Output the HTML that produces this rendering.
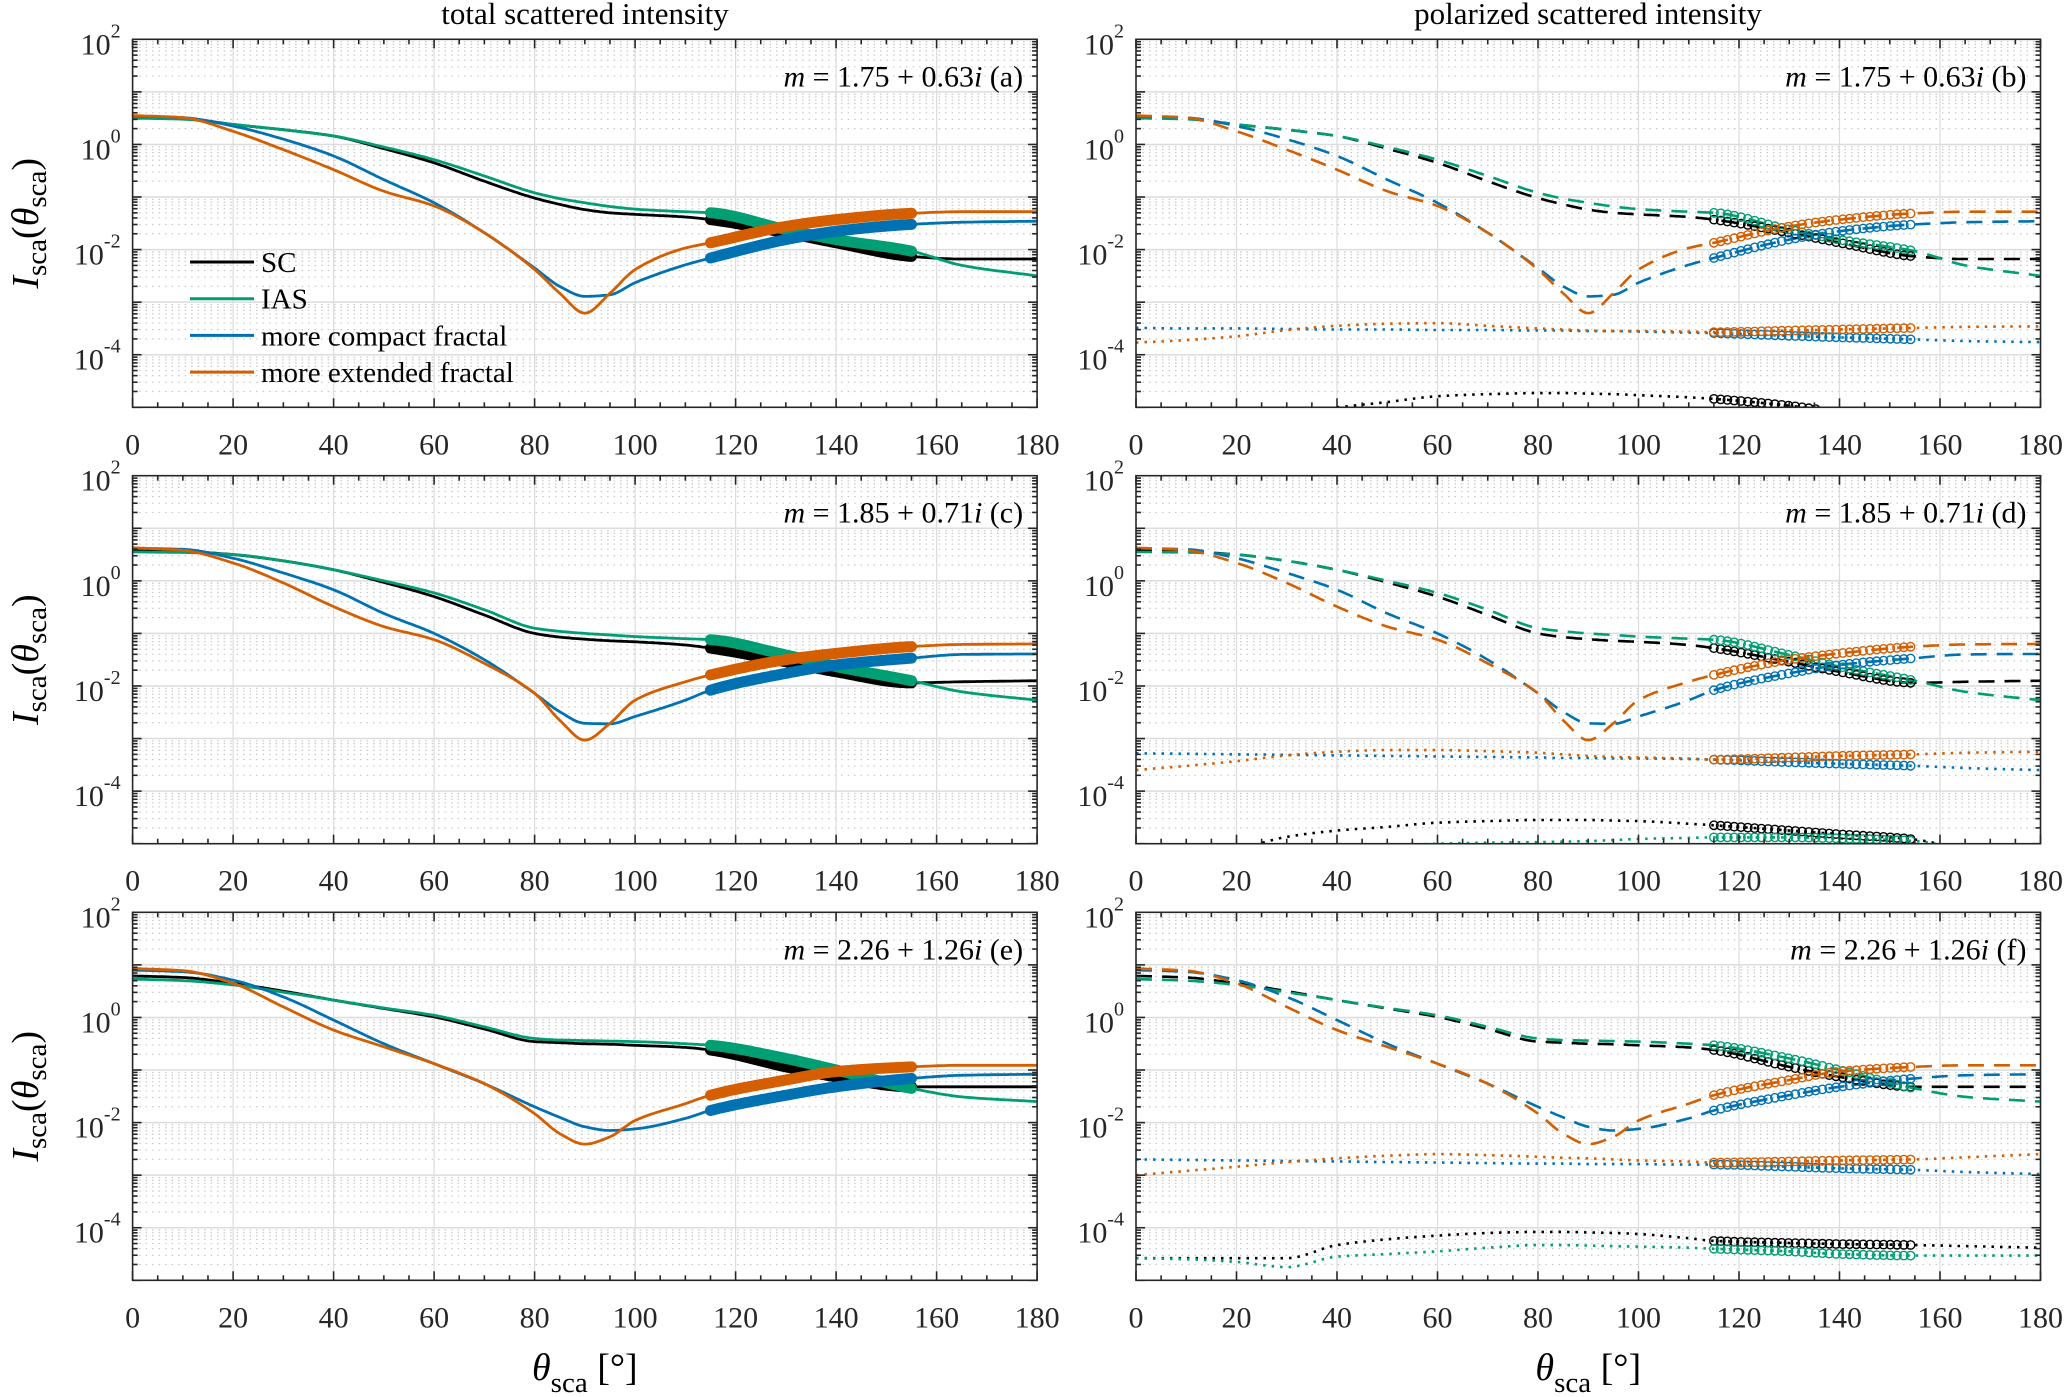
<!DOCTYPE html>
<html><head><meta charset="utf-8">
<style>
html,body{margin:0;padding:0;background:#fff;}
svg{display:block;font-family:"Liberation Serif",serif;}
</style></head>
<body>
<svg id="fig" width="2067" height="1397" viewBox="0 0 2067 1397" xmlns="http://www.w3.org/2000/svg">
<text x="585" y="24" font-size="31" text-anchor="middle">total scattered intensity</text>
<text x="1588" y="24" font-size="31" text-anchor="middle">polarized scattered intensity</text>
</svg>
<script>
// ---- data (log10 of intensity) ----
const angles = [0,10,20,30,40,50,60,70,80,85,90,95,100,110,115,130,140,155,165,180];
const aSC  = [0.54,0.5,0.38,0.28,0.16,-0.08,-0.35,-0.7,-1.02,-1.14,-1.24,-1.3,-1.33,-1.38,-1.43,-1.68,-1.87,-2.13,-2.18,-2.18];
const aIAS = [0.5,0.48,0.38,0.28,0.16,-0.05,-0.29,-0.6,-0.92,-1.03,-1.11,-1.18,-1.23,-1.28,-1.3,-1.62,-1.81,-2.03,-2.3,-2.5];
const aCmp = [0.54,0.51,0.35,0.1,-0.22,-0.67,-1.11,-1.68,-2.35,-2.7,-2.89,-2.86,-2.63,-2.29,-2.16,-1.81,-1.65,-1.52,-1.48,-1.46];
const aExt = [0.55,0.51,0.25,-0.1,-0.48,-0.89,-1.17,-1.68,-2.38,-2.83,-3.21,-2.83,-2.38,-1.97,-1.87,-1.56,-1.43,-1.31,-1.28,-1.28];
const bSC  = [-5.5,-5.5,-5.4,-5.1,-5.0,-4.9,-4.79,-4.75,-4.73,-4.73,-4.74,-4.75,-4.77,-4.81,-4.84,-4.97,-5.1,-5.3,-5.4,-5.5];
const bIAS = [-5.5,-5.5,-5.5,-5.5,-5.5,-5.5,-5.4,-5.3,-5.3,-5.3,-5.3,-5.3,-5.3,-5.3,-5.3,-5.3,-5.3,-5.4,-5.5,-5.5];
const bCmp = [-3.49,-3.5,-3.5,-3.51,-3.52,-3.52,-3.53,-3.53,-3.54,-3.54,-3.55,-3.55,-3.56,-3.58,-3.59,-3.64,-3.67,-3.71,-3.74,-3.76];
const bExt = [-3.77,-3.72,-3.65,-3.53,-3.45,-3.41,-3.4,-3.45,-3.5,-3.52,-3.54,-3.55,-3.55,-3.56,-3.57,-3.54,-3.52,-3.49,-3.47,-3.46];
const cSC  = [0.59,0.56,0.5,0.38,0.21,-0.03,-0.3,-0.65,-1.0,-1.07,-1.11,-1.14,-1.16,-1.22,-1.28,-1.54,-1.73,-1.94,-1.92,-1.9];
const cIAS = [0.55,0.54,0.5,0.38,0.21,0.0,-0.23,-0.55,-0.9,-0.96,-1.0,-1.03,-1.06,-1.1,-1.12,-1.41,-1.63,-1.9,-2.11,-2.27];
const cCmp = [0.62,0.6,0.43,0.15,-0.17,-0.62,-1.0,-1.5,-2.14,-2.49,-2.71,-2.72,-2.58,-2.27,-2.08,-1.76,-1.6,-1.47,-1.4,-1.39];
const cExt = [0.63,0.58,0.34,-0.04,-0.49,-0.87,-1.12,-1.57,-2.14,-2.65,-3.03,-2.71,-2.27,-1.92,-1.79,-1.5,-1.38,-1.25,-1.21,-1.2];
const dSC  = [-5.2,-5.2,-5.1,-4.87,-4.75,-4.68,-4.6,-4.57,-4.55,-4.55,-4.55,-4.56,-4.57,-4.62,-4.65,-4.75,-4.82,-4.92,-5.1,-5.2];
const dIAS = [-5.3,-5.3,-5.3,-5.2,-5.1,-5.05,-5.0,-4.98,-4.97,-4.96,-4.95,-4.93,-4.91,-4.89,-4.88,-4.88,-4.9,-4.95,-5.1,-5.2];
const dCmp = [-3.28,-3.29,-3.3,-3.31,-3.32,-3.33,-3.34,-3.35,-3.36,-3.37,-3.37,-3.38,-3.38,-3.39,-3.4,-3.45,-3.48,-3.52,-3.56,-3.6];
const dExt = [-3.6,-3.52,-3.43,-3.32,-3.25,-3.22,-3.22,-3.24,-3.27,-3.3,-3.33,-3.35,-3.36,-3.38,-3.4,-3.36,-3.33,-3.3,-3.27,-3.25];
const eSC  = [0.79,0.76,0.65,0.5,0.33,0.17,0.01,-0.22,-0.46,-0.48,-0.5,-0.51,-0.53,-0.57,-0.62,-0.94,-1.13,-1.32,-1.32,-1.32];
const eIAS = [0.73,0.7,0.62,0.48,0.33,0.18,0.04,-0.18,-0.4,-0.43,-0.44,-0.45,-0.46,-0.5,-0.53,-0.78,-1.0,-1.35,-1.51,-1.6];
const eCmp = [0.9,0.87,0.71,0.39,-0.05,-0.5,-0.88,-1.26,-1.7,-1.9,-2.08,-2.15,-2.12,-1.92,-1.77,-1.48,-1.32,-1.16,-1.1,-1.08];
const eExt = [0.93,0.89,0.65,0.2,-0.24,-0.56,-0.88,-1.26,-1.83,-2.21,-2.41,-2.27,-1.96,-1.64,-1.48,-1.19,-1.03,-0.94,-0.91,-0.91];
const fSC  = [-4.58,-4.58,-4.58,-4.58,-4.33,-4.22,-4.15,-4.1,-4.08,-4.08,-4.09,-4.1,-4.12,-4.2,-4.25,-4.29,-4.31,-4.33,-4.35,-4.38];
const fIAS = [-4.58,-4.6,-4.65,-4.75,-4.55,-4.5,-4.45,-4.38,-4.33,-4.33,-4.34,-4.35,-4.36,-4.38,-4.4,-4.45,-4.5,-4.53,-4.53,-4.53];
const fCmp = [-2.7,-2.71,-2.72,-2.73,-2.74,-2.75,-2.76,-2.77,-2.78,-2.78,-2.79,-2.79,-2.79,-2.8,-2.8,-2.84,-2.87,-2.9,-2.94,-2.98];
const fExt = [-3.0,-2.92,-2.84,-2.75,-2.68,-2.63,-2.6,-2.62,-2.65,-2.67,-2.68,-2.7,-2.72,-2.74,-2.76,-2.74,-2.72,-2.7,-2.66,-2.6];
const xTicks = [0,20,40,60,80,100,120,140,160,180];
const yTicks = [2,0,-2,-4];
const seriesNames = ["SC","IAS","more compact fractal","more extended fractal"];
const labels = ["m = 1.75 + 0.63i (a)","m = 1.75 + 0.63i (b)","m = 1.85 + 0.71i (c)","m = 1.85 + 0.71i (d)","m = 2.26 + 1.26i (e)","m = 2.26 + 1.26i (f)"];

const colors = ["#000000","#009e73","#0072b2","#d55e00"];
const NS = "http://www.w3.org/2000/svg";
const svg = document.getElementById('fig');
const colX = [132.6, 1136], W = 904.5, rowY = [39.3, 475.7, 912.3], H = 368;
const YMIN = -5, YMAX = 2;

function mk(tag, attrs, parent){ const e=document.createElementNS(NS,tag); for(const k in attrs) e.setAttribute(k,attrs[k]); (parent||svg).appendChild(e); return e; }
// monotone cubic (Fritsch-Carlson) interpolation in data space
function slopes(arr){
  const n=angles.length, d=[], m=new Array(n);
  for(let i=0;i<n-1;i++) d.push((arr[i+1]-arr[i])/(angles[i+1]-angles[i]));
  m[0]=d[0]; m[n-1]=d[n-2];
  for(let i=1;i<n-1;i++){
    if(d[i-1]*d[i]<=0) m[i]=0;
    else { const h0=angles[i]-angles[i-1], h1=angles[i+1]-angles[i];
      const w1=2*h1+h0, w2=h1+2*h0; m[i]=(w1+w2)/(w1/d[i-1]+w2/d[i]); }
  }
  return m;
}
function interp(arr, m, a){
  for(let i=0;i<angles.length-1;i++){
    if(a>=angles[i]&&a<=angles[i+1]){
      const h=angles[i+1]-angles[i], t=(a-angles[i])/h;
      const h00=2*t*t*t-3*t*t+1, h10=t*t*t-2*t*t+t, h01=-2*t*t*t+3*t*t, h11=t*t*t-t*t;
      return h00*arr[i]+h10*h*m[i]+h01*arr[i+1]+h11*h*m[i+1];
    }
  }
  return arr[arr.length-1];
}
function curvePath(arr, X, Y){
  const m=slopes(arr); let d="";
  for(let a=0;a<=180.001;a+=0.5){ d+=(a===0?"M":" L")+X(a).toFixed(1)+","+Y(interp(arr,m,a)).toFixed(1); }
  return d;
}

const panels = [
  {r:0,c:0,id:"a",series:[aSC,aIAS,aCmp,aExt],pol:false},
  {r:0,c:1,id:"b",series:[aSC,aIAS,aCmp,aExt],dots:[bSC,bIAS,bCmp,bExt],pol:true},
  {r:1,c:0,id:"c",series:[cSC,cIAS,cCmp,cExt],pol:false},
  {r:1,c:1,id:"d",series:[cSC,cIAS,cCmp,cExt],dots:[dSC,dIAS,dCmp,dExt],pol:true},
  {r:2,c:0,id:"e",series:[eSC,eIAS,eCmp,eExt],pol:false},
  {r:2,c:1,id:"f",series:[eSC,eIAS,eCmp,eExt],dots:[fSC,fIAS,fCmp,fExt],pol:true}
];

panels.forEach((p,pi)=>{
  const x0=colX[p.c], y0=rowY[p.r];
  const X=a=>x0+a/180*W;
  const Y=v=>y0+(YMAX-v)/(YMAX-YMIN)*H;
  const g=mk('g',{});
  
  
  const cp=mk('clipPath',{id:'clip'+p.id},g);
  mk('rect',{x:x0,y:y0,width:W,height:H},cp);
  const grid=mk('g',{},g);
  
  
  for(let dec=YMIN;dec<YMAX;dec++){
    for(let k=2;k<=9;k++){ const yy=Y(dec+Math.log10(k)); mk('line',{x1:x0,x2:x0+W,y1:yy,y2:yy,stroke:'#c8c8c8','stroke-width':1.2,'stroke-dasharray':'1.5 5'},grid); }
    if(dec>YMIN){ const yy=Y(dec); mk('line',{x1:x0,x2:x0+W,y1:yy,y2:yy,stroke:'#dcdcdc','stroke-width':1.5},grid); }
  }
  xTicks.forEach(t=>{ if(t>0&&t<180) mk('line',{x1:X(t),x2:X(t),y1:y0,y2:y0+H,stroke:'#dcdcdc','stroke-width':1.2},grid); });
  const data=mk('g',{'clip-path':'url(#clip'+p.id+')'},g);
  p.series.forEach((s,si)=>{
    const path=mk('path',{d:curvePath(s,X,Y),fill:'none',stroke:colors[si],'stroke-width':p.pol?2.6:2.8,'stroke-linejoin':'round'},data);
    if(p.pol) path.setAttribute('stroke-dasharray','16 10');
    
    
  });
  const markerSets = p.pol ? p.series.concat(p.dots) : p.series;
  if(p.pol){
    p.dots.forEach((s,si)=>{
      const path=mk('path',{d:curvePath(s,X,Y),fill:'none',stroke:colors[si],'stroke-width':2.6,'stroke-dasharray':'2.5 6'},data);
      
      
    });
  }
  markerSets.forEach((s,k)=>{
    const si=k%4; const m=slopes(s);
    const mg=mk('g',{fill:'none',stroke:colors[si],'stroke-width':p.pol?1.4:2.4},data);
    
    
    const step=p.pol?1.35:0.4;
    for(let a=115;a<=155.01;a+=step){
      const v=interp(s,m,a);
      if(v<YMIN-0.05) continue;
      mk('circle',{cx:X(a).toFixed(1),cy:Y(v).toFixed(1),r:p.pol?4.2:4.3},mg);
    }
  });
  const ax=mk('g',{stroke:'#262626','stroke-width':1.6,fill:'none'},g);
  
  
  mk('rect',{x:x0,y:y0,width:W,height:H},ax);
  for(let a=0;a<=180;a+=5){
    const L=(a%20===0)?9:5;
    mk('line',{x1:X(a),x2:X(a),y1:y0+H,y2:y0+H-L},ax);
    mk('line',{x1:X(a),x2:X(a),y1:y0,y2:y0+L},ax);
  }
  for(let dec=YMIN;dec<YMAX;dec++){
    for(let k=1;k<=9;k++){
      const yy=Y(dec+Math.log10(k)); const L=k===1?9:5;
      mk('line',{x1:x0,x2:x0+L,y1:yy,y2:yy},ax);
      mk('line',{x1:x0+W,x2:x0+W-L,y1:yy,y2:yy},ax);
    }
  }
  xTicks.forEach(t=>{
    const tx=mk('text',{x:X(t),y:y0+H+47,'font-size':30,'text-anchor':'middle',fill:'#262626'},g);
    tx.textContent=t;
    
    
  });
  yTicks.forEach(t=>{
    const tx=mk('text',{x:x0-12,y:Y(t)+15,'font-size':30,'text-anchor':'end',fill:'#262626'},g);
    const b=mk('tspan',{},tx); b.textContent='10';
    const s=mk('tspan',{dy:-17,'font-size':20},tx); s.textContent=String(t);
    
    
  });
  const lab=labels[pi];
  const an=mk('text',{x:x0+W-14,y:y0+47,'font-size':30,'text-anchor':'end'},g);
  
  
  const parts=lab.match(/^m(.*?)i (\(.\))$/);
  const t1=mk('tspan',{'font-style':'italic'},an); t1.textContent='m';
  const t2=mk('tspan',{},an); t2.textContent=parts[1];
  const t3=mk('tspan',{'font-style':'italic'},an); t3.textContent='i';
  const t4=mk('tspan',{},an); t4.textContent=' '+parts[2];
  if(p.c===0){
    const yl=mk('text',{transform:'translate(38,'+(y0+H/2)+') rotate(-90)','font-size':38,'text-anchor':'middle'},g);
    
    
    const a1=mk('tspan',{'font-style':'italic'},yl); a1.textContent='I';
    const a2=mk('tspan',{'font-size':29,dy:8},yl); a2.textContent='sca';
    const a3=mk('tspan',{dy:-8},yl); a3.textContent='(';
    const a4=mk('tspan',{'font-style':'italic'},yl); a4.textContent='θ';
    const a5=mk('tspan',{'font-size':29,dy:8},yl); a5.textContent='sca';
    const a6=mk('tspan',{dy:-8},yl); a6.textContent=')';
  }
  if(p.id==='a'){
    const lg=mk('g',{},g);
    
    
    seriesNames.forEach((n,i)=>{
      const yy=262+i*36.7;
      const ent=mk('g',{},lg);
      
      
      mk('line',{x1:190,x2:254,y1:yy,y2:yy,stroke:colors[i],'stroke-width':3},ent);
      const tt=mk('text',{x:261,y:yy+10,'font-size':29},ent); tt.textContent=n;
    });
  }
  if(p.r===2){
    const xl=mk('text',{x:x0+W/2,y:1380,'font-size':38,'text-anchor':'middle'},g);
    
    
    const b1=mk('tspan',{'font-style':'italic'},xl); b1.textContent='θ';
    const b2=mk('tspan',{'font-size':29,dy:12},xl); b2.textContent='sca';
    const b3=mk('tspan',{dy:-12},xl); b3.textContent=' [°]';
  }
});
</script>
</body></html>
